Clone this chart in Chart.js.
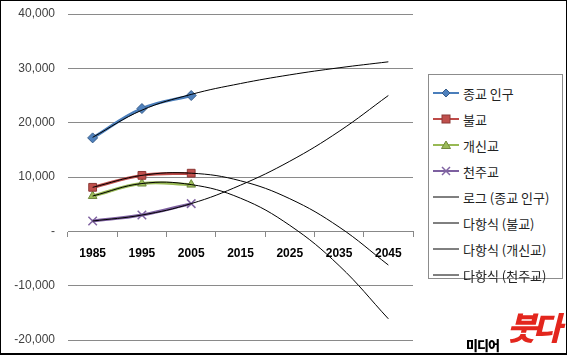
<!DOCTYPE html>
<html>
<head>
<meta charset="utf-8">
<script src="https://cdn.jsdelivr.net/npm/chart.js@4/dist/chart.umd.min.js"></script>
<style>
  html, body { margin: 0; padding: 0; background: #fff; }
  #wrap { position: relative; width: 567px; height: 355px; overflow: hidden; }
  #c { position: absolute; left: 0; top: 0; }
  #frame { position: absolute; left: 0; top: 0; width: 567px; height: 355px; box-sizing: border-box;
           border: 1px solid #000; border-bottom: 2px solid #000; pointer-events: none; }
  #legend { position: absolute; left: 428px; top: 74px; width: 135px; height: 205px; box-sizing: border-box;
            border: 1px solid #8c8c8c; background: #fff; padding-top: 5px;
            font-family: "Noto Sans CJK KR", "Noto Sans", sans-serif; font-size: 13px; color: #222; }
  .row { height: 26px; display: flex; align-items: center; white-space: nowrap; }
  .row svg { margin-left: 4px; margin-right: 4px; flex: none; }
  #wm1 { position: absolute; left: 466px; top: 338px; font-family: "Noto Sans CJK KR", sans-serif;
         font-weight: 900; font-size: 13px; color: #000; letter-spacing: -1px; line-height: 14px; }
  #wm2 { position: absolute; left: 507px; top: 306px; font-family: "Noto Sans CJK KR", sans-serif;
         font-weight: 900; font-size: 32px; color: #e3261d; line-height: 40px; letter-spacing: -4px; font-style: italic; }
</style>
</head>
<body>
<div id="wrap">
  <canvas id="c" width="567" height="355"></canvas>
  <div id="legend"></div>
  <div id="wm1">미디어</div>
  <div id="wm2">붓다</div>
  <div id="frame"></div>
</div>
<script>
// ---- data ----
const years = ['1985', '1995', '2005', '2015', '2025', '2035', '2045'];
const religionTotal = [17200, 22600, 25000];
const buddhism = [8100, 10300, 10700];
const protestant = [6500, 8800, 8600];
const catholic = [1900, 3000, 5100];
// trend lines (forecast to 2045)
const trendTotalLog = [17300, 22300, 25200, 27200, 28800, 30100, 31200];
const trendBuddhism = [8100, 10300, 10700, 9300, 6000, 800, -6200];
const trendProtestant = [6500, 8800, 8600, 6100, 1100, -6300, -16100];
const trendCatholic = [1900, 3000, 5100, 8500, 12900, 18400, 25000];
const yTicks = [-20000, -10000, 0, 10000, 20000, 30000, 40000];

const seriesNames = ['종교 인구', '불교', '개신교', '천주교'];
const trendNames = ['로그 (종교 인구)', '다항식 (불교)', '다항식 (개신교)', '다항식 (천주교)'];

const styles = [
  { line: '#4A7EBB', fill: '#4F81BD', edge: '#385D8A', point: 'rectRot', r: 5 },
  { line: '#BE4B48', fill: '#C0504D', edge: '#8C3836', point: 'rect', r: 5.5 },
  { line: '#98B954', fill: '#9BBB59', edge: '#71893F', point: 'triangle', r: 5 },
  { line: '#7D60A0', fill: '#8064A2', edge: '#8064A2', point: 'crossRot', r: 6 }
];
const seriesData = [religionTotal, buddhism, protestant, catholic];
const trendData = [trendTotalLog, trendBuddhism, trendProtestant, trendCatholic];

const datasets = [];
seriesData.forEach((d, i) => {
  const s = styles[i];
  datasets.push({
    label: seriesNames[i], data: d, order: 1,
    borderColor: s.line, borderWidth: 3, tension: 0.4,
    pointStyle: s.point, pointRadius: s.r, pointHoverRadius: s.r,
    pointBackgroundColor: s.fill, pointBorderColor: s.edge, pointBorderWidth: i === 3 ? 1.5 : 1
  });
});
trendData.forEach((d, i) => {
  datasets.push({
    label: trendNames[i], data: d, order: 0,
    borderColor: '#000', borderWidth: 1, tension: 0.4, pointRadius: 0, pointHoverRadius: 0
  });
});

new Chart(document.getElementById('c'), {
  type: 'line',
  data: { labels: years, datasets },
  options: {
    responsive: false, animation: false, devicePixelRatio: 1,
    layout: { padding: { left: 0, right: 154, top: 14, bottom: 15 } },
    plugins: { legend: { display: false }, tooltip: { enabled: false } },
    scales: {
      x: {
        type: 'category', offset: true, position: { y: 0 },
        grid: { display: true, drawOnChartArea: false, drawTicks: true, tickLength: 5, offset: true, color: '#888' },
        border: { display: true, color: '#888', width: 1 },
        ticks: { color: '#000', font: { family: 'Liberation Sans', size: 12, weight: 'bold' }, padding: 10, maxRotation: 0, autoSkip: false },
        afterFit: (s) => { s.height = 0; }
      },
      y: {
        min: yTicks[0], max: yTicks[yTicks.length - 1],
        afterBuildTicks: (s) => { s.ticks = yTicks.map(v => ({ value: v })); },
        grid: { color: '#8a8a8a', drawTicks: true, tickLength: 13, tickColor: 'rgba(0,0,0,0)', lineWidth: 1 },
        border: { display: false },
        ticks: {
          color: '#404040', font: { family: 'Liberation Sans', size: 12 }, padding: 0,
          callback: (v) => v === 0 ? '-' : Number(v).toLocaleString('en-US')
        },
        afterFit: (s) => { s.width = 68; }
      }
    }
  }
});

// ---- HTML legend ----
function markerSvg(i) {
  const s = styles[i];
  const cx = 13, cy = 6;
  let m = '';
  if (s.point === 'rectRot') m = `<polygon points="${cx},${cy-4} ${cx+4},${cy} ${cx},${cy+4} ${cx-4},${cy}" fill="${s.fill}" stroke="${s.edge}" stroke-width="1"/>`;
  else if (s.point === 'rect') m = `<rect x="${cx-4}" y="${cy-4}" width="8" height="8" fill="${s.fill}" stroke="${s.edge}" stroke-width="1"/>`;
  else if (s.point === 'triangle') m = `<polygon points="${cx},${cy-4} ${cx+4.5},${cy+3.5} ${cx-4.5},${cy+3.5}" fill="${s.fill}" stroke="${s.edge}" stroke-width="1"/>`;
  else m = `<path d="M${cx-4},${cy-4} L${cx+4},${cy+4} M${cx+4},${cy-4} L${cx-4},${cy+4}" stroke="${s.fill}" stroke-width="1.5"/>`;
  return `<svg width="26" height="12"><line x1="0" y1="${cy}" x2="26" y2="${cy}" stroke="${s.line}" stroke-width="2"/>${m}</svg>`;
}
const lg = document.getElementById('legend');
let html = '';
seriesNames.forEach((n, i) => { html += `<div class="row">${markerSvg(i)}<span>${n}</span></div>`; });
trendNames.forEach((n) => { html += `<div class="row"><svg width="26" height="12"><line x1="0" y1="6" x2="26" y2="6" stroke="#000" stroke-width="1"/></svg><span>${n}</span></div>`; });
lg.innerHTML = html;
</script>
</body>
</html>
